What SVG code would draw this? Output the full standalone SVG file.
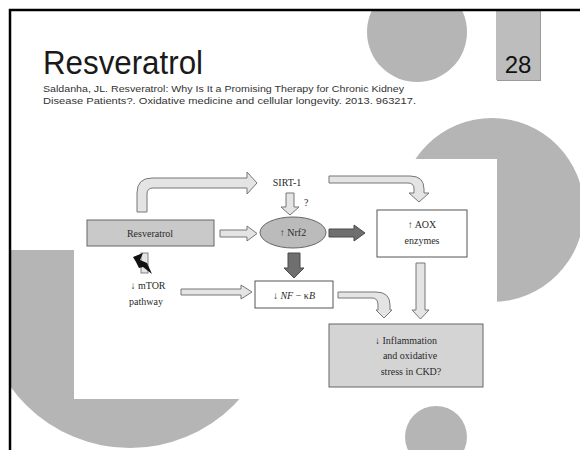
<svg xmlns="http://www.w3.org/2000/svg" width="580" height="450" viewBox="0 0 580 450">
<style>
.deco{fill:#b5b5b5}
.lt{fill:#e4e4e4;stroke:#777;stroke-width:1}
.dk{fill:#6f6f6f;stroke:#4a4a4a;stroke-width:1}
.t{font-family:"Liberation Serif","Times New Roman",serif;font-size:10px;fill:#2a2a2a}
.s{font-family:"Liberation Sans",Arial,sans-serif;fill:#333}
</style>
<defs>
<clipPath id="frame"><rect x="10" y="10" width="580" height="450"/></clipPath>
<clipPath id="lowleft"><rect x="10" y="250" width="300" height="210"/></clipPath>
</defs>
<rect width="580" height="450" fill="#fff"/>
<g id="decorations" clip-path="url(#frame)">
<circle class="deco" cx="417" cy="32" r="50"/>
<circle class="deco" cx="492" cy="210" r="92"/>
<circle class="deco" cx="130" cy="301" r="147" clip-path="url(#lowleft)"/>
<circle class="deco" cx="436" cy="437" r="31"/>
<rect x="497" y="10" width="44" height="71" fill="#9a9a9a"/>
<rect x="496" y="10" width="44" height="70" fill="#bdbdbd"/>
</g>
<rect x="10" y="10" width="600" height="500" fill="none" stroke="#000" stroke-width="2.5"/>
<g id="header">
<text x="43" y="74" font-family="Liberation Sans,Arial,sans-serif" font-size="33" fill="#1a1a1a" textLength="160" lengthAdjust="spacingAndGlyphs">Resveratrol</text>
<text x="518" y="73" text-anchor="middle" font-family="Liberation Sans,Arial,sans-serif" font-size="24" fill="#111">28</text>
<text class="s" x="43" y="92" font-size="9.5" textLength="361" lengthAdjust="spacingAndGlyphs">Saldanha, JL. Resveratrol: Why Is It a Promising Therapy for Chronic Kidney</text>
<text class="s" x="43" y="104" font-size="9.5" textLength="373" lengthAdjust="spacingAndGlyphs">Disease Patients?. Oxidative medicine and cellular longevity. 2013. 963217.</text>
</g>
<rect id="figure-bg" x="74" y="159" width="423" height="240" fill="#fff"/>
<g id="connectors">
<path class="lt" d="M137,212 L137,193 Q137,178 152,178 L247,178 L247,172 L257,183 L247,194 L247,188 L153,188 Q147,188 147,194 L147,212 Z"/>
<path class="lt" d="M329,176 L410,176 Q424,176 424,189 L424,193 L429,193 L419,202 L409,193 L414,193 L414,189 Q414,183 408,183 L329,183 Z"/>
<path class="lt" d="M286,193 L294,193 L294,207 L299,207 L290,215 L281,207 L286,207 Z"/>
<path class="lt" d="M220,230 L247,230 L247,226 L257,233.5 L247,241 L247,237 L220,237 Z"/>
<path class="dk" d="M329,229 L354,229 L354,225 L365,233 L354,241 L354,237 L329,237 Z"/>
<path class="dk" d="M288,253 L300,253 L300,268 L304,268 L294,278 L284,268 L288,268 Z"/>
<path class="lt" d="M181,289 L241,289 L241,285 L252,292 L241,299 L241,295 L181,295 Z"/>
<path class="lt" d="M416,263 L425,263 L425,310 L429,310 L420.5,319 L412,310 L416,310 Z"/>
<path class="lt" d="M338,292 L376,292 Q390,292 390,305 L390,310 L392,310 L384,318 L376,310 L378,310 L378,305 Q378,298 372,298 L338,298 Z"/>
<g id="inhibition">
<rect x="141" y="253" width="7" height="20" fill="#e4e4e4" stroke="#666" stroke-width="0.8"/>
<polygon points="133,257 143,253 140,260 147,263 152,274 143,267 139,268 136,262" fill="#111"/>
</g>
<text class="t" x="304" y="206" font-size="9">?</text>
</g>
<g id="node-resveratrol">
<rect x="87" y="220" width="127" height="26" fill="#c9c9c9" stroke="#666" stroke-width="1"/>
<text class="t" x="150" y="237" text-anchor="middle">Resveratrol</text>
</g>
<g id="node-sirt1">
<text class="t" x="287" y="186" text-anchor="middle" font-size="9.5">SIRT-1</text>
</g>
<g id="node-nrf2">
<ellipse cx="293" cy="232.5" rx="33" ry="15.5" fill="#bbb" stroke="#666" stroke-width="1"/>
<text class="t" x="293" y="236" text-anchor="middle">↑ Nrf2</text>
</g>
<g id="node-aox">
<rect x="377" y="210" width="90" height="47" fill="#fff" stroke="#555" stroke-width="1"/>
<text class="t" x="422" y="228" text-anchor="middle">↑ AOX</text>
<text class="t" x="422" y="244" text-anchor="middle">enzymes</text>
</g>
<g id="node-mtor">
<text class="t" x="148" y="289" text-anchor="middle">↓ mTOR</text>
<text class="t" x="146" y="305" text-anchor="middle">pathway</text>
</g>
<g id="node-nfkb">
<rect x="255" y="281" width="78" height="27" fill="#fff" stroke="#555" stroke-width="1"/>
<text class="t" x="294" y="299" text-anchor="middle">↓ <tspan font-style="italic">NF</tspan> − κ<tspan font-style="italic">B</tspan></text>
</g>
<g id="node-inflammation">
<rect x="329" y="324" width="154" height="63" fill="#d4d4d4" stroke="#666" stroke-width="1"/>
<text class="t" x="406" y="344" text-anchor="middle" font-size="10.5">↓ Inflammation</text>
<text class="t" x="410" y="359" text-anchor="middle" font-size="10.5">and oxidative</text>
<text class="t" x="411" y="375" text-anchor="middle" font-size="10.5">stress in CKD?</text>
</g>
</svg>
